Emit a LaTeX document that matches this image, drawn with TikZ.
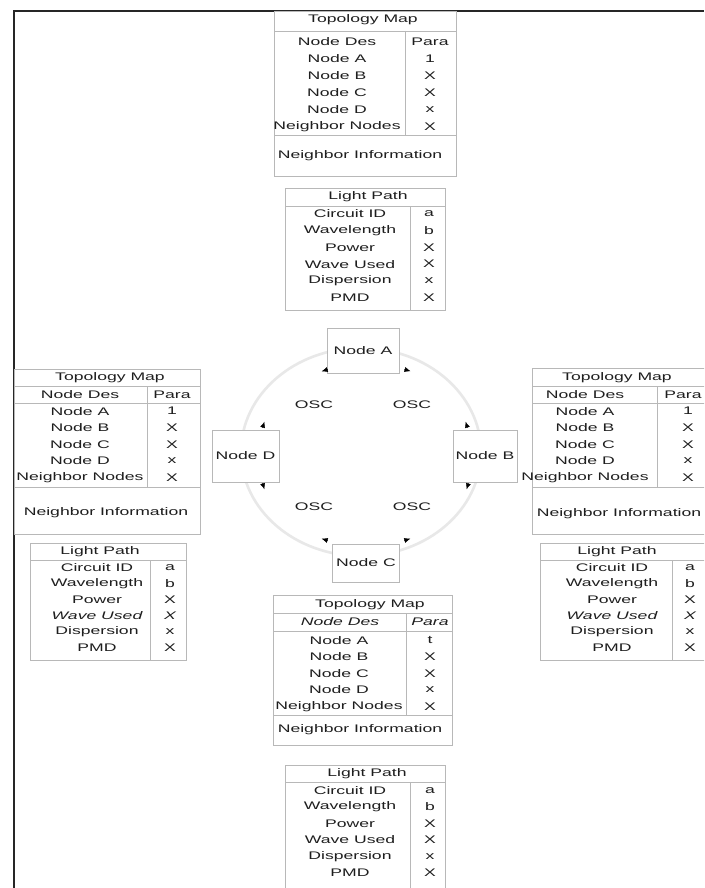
\documentclass[tikz,border=0pt]{standalone}
\usepackage{fontspec}
\setmainfont{Liberation Sans}[FakeStretch=1.6]
\usetikzlibrary{arrows.meta}
\definecolor{ink}{HTML}{1E1E1E}
\definecolor{rule}{HTML}{B8B8B8}
\tikzset{
  cell/.style={inner sep=0pt, text=ink, font=\fontsize{11}{13}\selectfont},
  ocell/.style={cell, font=\fontsize{11}{13}\selectfont\itshape},
  grid/.style={draw=rule, line width=0.6pt},
  frame/.style={draw=black!85, line width=1.8pt},
  ring/.style={draw=black!9, line width=2.6pt},
  station/.style={draw=rule, line width=0.6pt, fill=white, inner sep=0pt,
    text=ink, font=\fontsize{11}{13}\selectfont},
  osc/.style={cell, font=\fontsize{11}{13}\selectfont},
  osctip/.style={draw=black, line width=0.4pt, -{Latex[length=6pt,width=5pt]}},
}
\begin{document}
\begin{tikzpicture}[x=1pt,y=-1pt]
\useasboundingbox (0,0) rectangle (704,888);
\clip (0,0) rectangle (704,888);
\fill[white] (0,0) rectangle (704,888);

% outer frame
\draw[frame] (14,888) -- (14,11) -- (704,11);

% ---------- top: topology map ----------
\draw[grid] (274,11) rectangle (456,176);
\draw[grid] (274,31) -- (456,31);
\draw[grid] (274,135) -- (456,135);
\draw[grid] (405,31) -- (405,135);
\node[cell] (tTitle) at (363,20) {Topology Map};
\foreach \lab/\val [count=\i] in {Node Des/Para, Node A/1, Node B/X, Node C/X, Node D/x, Neighbor Nodes/X}{
  \node[cell] (tN\i) at (337,25+17*\i) {\lab};
  \node[cell] (tV\i) at (430,25+17*\i) {\val};
}
\node[cell] (tNI) at (360,156) {Neighbor Information};

% ---------- top: light path ----------
\draw[grid] (285,188) rectangle (445,310);
\draw[grid] (285,206) -- (445,206);
\draw[grid] (410,206) -- (410,310);
\node[cell] (tLP) at (368,197) {Light Path};
\foreach \lab/\val [count=\i] in {Circuit ID/a, Wavelength/b, Power/X, Wave Used/X, Dispersion/x, PMD/X}{
  \node[cell] (tL\i) at (350,197+16.8*\i) {\lab};
  \node[cell] (tW\i) at (429,197+16.8*\i) {\val};
}

% ---------- left: topology map ----------
\draw[grid] (14,369) rectangle (200,534);
\draw[grid] (14,386) -- (200,386);
\draw[grid] (14,403) -- (200,403);
\draw[grid] (14,487) -- (200,487);
\draw[grid] (147,386) -- (147,487);
\node[cell] (lTitle) at (110,378) {Topology Map};
\foreach \lab/\val [count=\i] in {Node Des/Para, Node A/1, Node B/X, Node C/X, Node D/x, Neighbor Nodes/X}{
  \node[cell] (lN\i) at (80,378+16.6*\i) {\lab};
  \node[cell] (lV\i) at (172,378+16.6*\i) {\val};
}
\node[cell] (lNI) at (106,513) {Neighbor Information};

% ---------- left: light path ----------
\draw[grid] (30,543) rectangle (186,660);
\draw[grid] (30,560) -- (186,560);
\draw[grid] (150,560) -- (150,660);
\node[cell] (lLP) at (100,552) {Light Path};
\foreach \lab/\val [count=\i] in {Circuit ID/a, Wavelength/b, Power/X}{
  \node[cell] (lL\i) at (97,552+16*\i) {\lab};
  \node[cell] (lW\i) at (170,552+16*\i) {\val};
}
\node[ocell] (lL4) at (97,616) {Wave Used};
\node[ocell] (lW4) at (170,616) {X};
\foreach \lab/\val [count=\i from 5] in {Dispersion/x, PMD/X}{
  \node[cell] (lL\i) at (97,552+16*\i) {\lab};
  \node[cell] (lW\i) at (170,552+16*\i) {\val};
}

% ---------- right: topology map ----------
\draw[grid] (532,368) rectangle (706,534);
\draw[grid] (532,386) -- (706,386);
\draw[grid] (532,403) -- (706,403);
\draw[grid] (532,487) -- (706,487);
\draw[grid] (657,386) -- (657,487);
\node[cell] (rTitle) at (617,378) {Topology Map};
\node[cell] (rN1) at (585,394.6) {Node Des};
\node[cell] (rV1) at (683,394.6) {Para};
\foreach \lab/\val [count=\i from 2] in {Node A/1, Node B/X, Node C/X, Node D/x, Neighbor Nodes/X}{
  \node[cell] (rN\i) at (585,378+16.6*\i) {\lab};
  \node[cell] (rV\i) at (688,378+16.6*\i) {\val};
}
\node[cell] (rNI) at (619,514) {Neighbor Information};

% ---------- right: light path ----------
\draw[grid] (540,543) rectangle (706,660);
\draw[grid] (540,560) -- (706,560);
\draw[grid] (672,560) -- (672,660);
\node[cell] (rLP) at (617,552) {Light Path};
\foreach \lab/\val [count=\i] in {Circuit ID/a, Wavelength/b, Power/X}{
  \node[cell] (rL\i) at (612,552+16*\i) {\lab};
  \node[cell] (rW\i) at (690,552+16*\i) {\val};
}
\node[ocell] (rL4) at (612,616) {Wave Used};
\node[ocell] (rW4) at (690,616) {X};
\foreach \lab/\val [count=\i from 5] in {Dispersion/x, PMD/X}{
  \node[cell] (rL\i) at (612,552+16*\i) {\lab};
  \node[cell] (rW\i) at (690,552+16*\i) {\val};
}

% ---------- bottom: topology map ----------
\draw[grid] (273,595) rectangle (452,745);
\draw[grid] (273,613) -- (452,613);
\draw[grid] (273,631) -- (452,631);
\draw[grid] (273,715) -- (452,715);
\draw[grid] (406,613) -- (406,715);
\node[cell] (bTitle) at (370,605) {Topology Map};
\node[ocell] (bN1) at (340,622) {Node Des};
\node[ocell] (bV1) at (430,622) {Para};
\foreach \lab/\val [count=\i from 2] in {Node A/t, Node B/X, Node C/X, Node D/x, Neighbor Nodes/X}{
  \node[cell] (bN\i) at (339,607+16.6*\i) {\lab};
  \node[cell] (bV\i) at (430,607+16.6*\i) {\val};
}
\node[cell] (bNI) at (360,730) {Neighbor Information};

% ---------- bottom: light path ----------
\draw[grid] (285,765) rectangle (445,892);
\draw[grid] (285,782) -- (445,782);
\draw[grid] (410,782) -- (410,892);
\node[cell] (bLP) at (367,774) {Light Path};
\foreach \lab/\val [count=\i] in {Circuit ID/a, Wavelength/b, Power/X, Wave Used/X, Dispersion/x, PMD/X}{
  \node[cell] (bL\i) at (350,774+16.5*\i) {\lab};
  \node[cell] (bW\i) at (430,774+16.5*\i) {\val};
}

% ---------- ring of four nodes ----------
\draw[ring] (361,452) ellipse [x radius=120, y radius=104];

\node[station, minimum width=72pt, minimum height=45pt] (nA) at (363,351) {Node A};
\node[station, minimum width=67pt, minimum height=52pt] (nD) at (245.5,456) {Node D};
\node[station, minimum width=64pt, minimum height=52pt] (nB) at (485,456) {Node B};
\node[station, minimum width=67pt, minimum height=38pt] (nC) at (366,563) {Node C};

\node[osc] (o1) at (314,405) {OSC};
\node[osc] (o2) at (412,405) {OSC};
\node[osc] (o3) at (314,507) {OSC};
\node[osc] (o4) at (412,507) {OSC};

% channel directions leaving each node
\draw[osctip] ([shift={(1.2,-4.4)}]nA.south west) -- ++(-6.2,1.9);
\draw[osctip] ([shift={(5,-4.5)}]nA.south east) -- ++(6.2,1.9);
\draw[osctip] ([shift={(-16.8,-1.8)}]nD.north east) -- ++(1.9,-6.2);
\draw[osctip] ([shift={(-16.8,0.8)}]nD.south east) -- ++(1.9,6.2);
\draw[osctip] ([shift={(14.8,-1.8)}]nB.north west) -- ++(-1.9,-6.2);
\draw[osctip] ([shift={(15.8,0.8)}]nB.south west) -- ++(-1.9,6.2);
\draw[osctip] ([shift={(-4.3,-3.1)}]nC.north west) -- ++(-6.2,-1.9);
\draw[osctip] ([shift={(4.3,-3.1)}]nC.north east) -- ++(6.2,-1.9);
\end{tikzpicture}
\end{document}
